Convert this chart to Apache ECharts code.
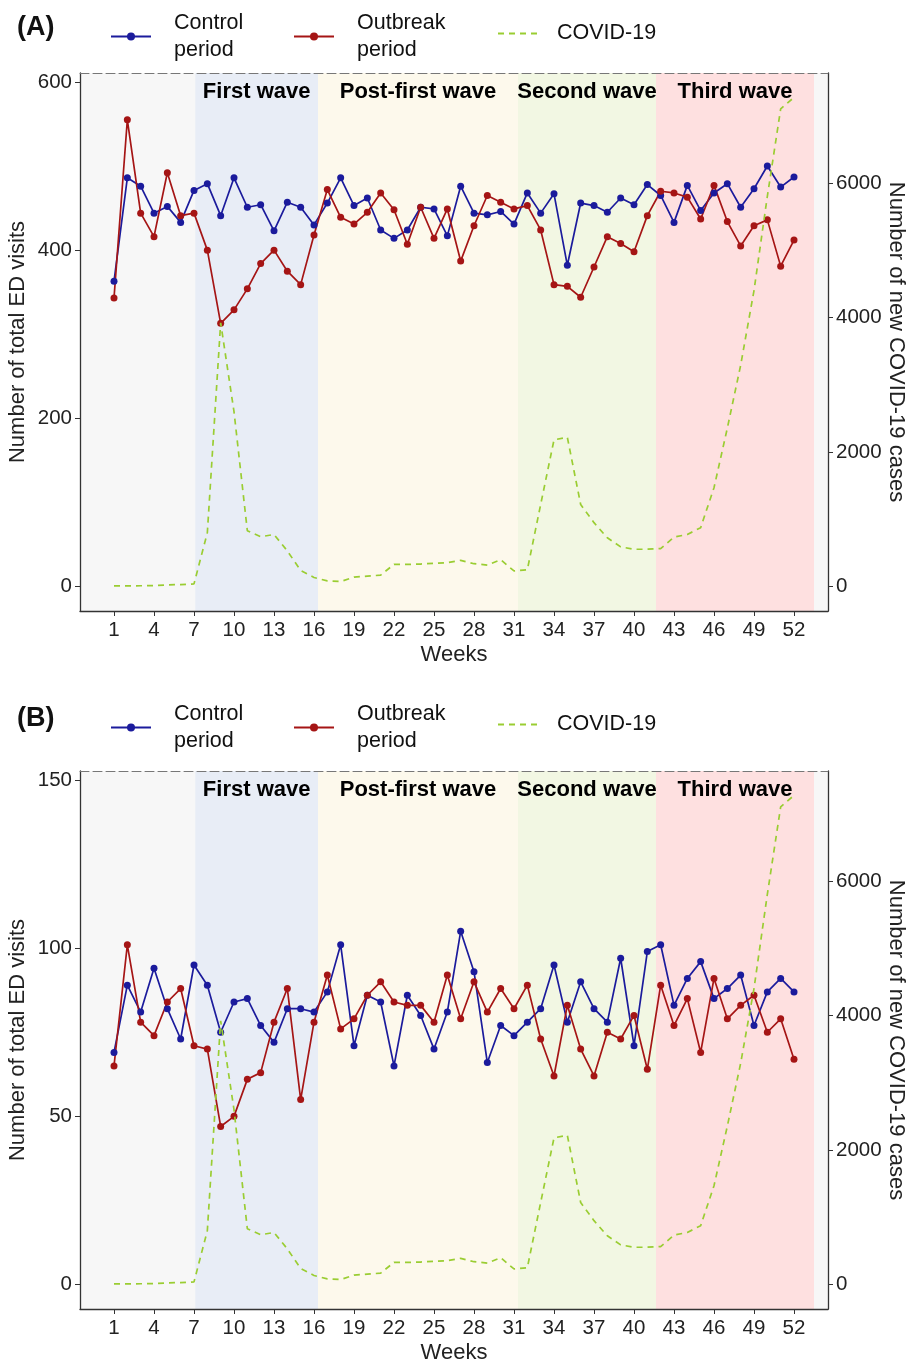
<!DOCTYPE html>
<html>
<head>
<meta charset="utf-8">
<title>ED visits and COVID-19</title>
<script src="https://cdn.jsdelivr.net/npm/echarts@6/dist/echarts.min.js"></script>
<style>
  html, body { margin: 0; padding: 0; background: #fff; }
  #main { width: 907px; height: 1363px; }
</style>
</head>
<body>
<div id="main"></div>
<script>
// weeks of the year
var weeks = [1, 2, 3, 4, 5, 6, 7, 8, 9, 10, 11, 12, 13, 14, 15, 16, 17, 18, 19, 20, 21, 22, 23, 24, 25, 26,
             27, 28, 29, 30, 31, 32, 33, 34, 35, 36, 37, 38, 39, 40, 41, 42, 43, 44, 45, 46, 47, 48, 49, 50, 51, 52];
var weekTicks = [1, 4, 7, 10, 13, 16, 19, 22, 25, 28, 31, 34, 37, 40, 43, 46, 49, 52];

// (A) total ED visits
var controlA = [363, 486, 476, 444, 452, 433, 471, 479, 441, 486, 451, 454, 423, 457, 451, 430, 456, 486, 453, 462, 424, 414, 424, 451, 449, 417,
                476, 444, 442, 446, 431, 468, 444, 467, 382, 456, 453, 445, 462, 454, 478, 465, 433, 477, 447, 468, 479, 451, 473, 500, 475, 487];
var outbreakA = [343, 555, 444, 416, 492, 441, 444, 400, 313, 329, 354, 384, 400, 375, 359, 418, 472, 439, 431, 445, 468, 448, 407, 451, 414, 449,
                 387, 429, 465, 457, 449, 453, 424, 359, 357, 344, 380, 416, 408, 398, 441, 470, 468, 463, 437, 477, 434, 405, 429, 436, 381, 412];

// (B) second panel
var controlB = [69, 89, 81, 94, 82, 73, 95, 89, 75, 84, 85, 77, 72, 82, 82, 81, 87, 101, 71, 86, 84, 65, 86, 80, 70, 81,
                105, 93, 66, 77, 74, 78, 82, 95, 78, 90, 82, 78, 97, 71, 99, 101, 83, 91, 96, 85, 88, 92, 77, 87, 91, 87];
var outbreakB = [65, 101, 78, 74, 84, 88, 71, 70, 47, 50, 61, 63, 78, 88, 55, 78, 92, 76, 79, 86, 90, 84, 83, 83, 78, 92,
                 79, 90, 81, 88, 82, 89, 73, 62, 83, 70, 62, 75, 73, 80, 64, 89, 77, 85, 69, 91, 79, 83, 86, 75, 79, 67];

// new COVID-19 cases per week
var covid = [10, 10, 12, 15, 25, 30, 40, 800, 3920, 2600, 830, 740, 775, 530, 240, 135, 85, 75, 140, 155, 170, 330, 330, 335, 345, 355,
             390, 340, 320, 400, 232, 250, 1220, 2180, 2220, 1220, 950, 725, 590, 555, 555, 565, 735, 775, 875, 1470, 2355, 3290, 4400, 5800, 7100, 7270];

// wave periods (in weeks)
var waveNames = ['First wave', 'Post-first wave', 'Second wave', 'Third wave'];
var waveStart = [7.1, 16.3, 31.3, 41.65];
var waveEnd = [16.3, 31.3, 41.65, 53.5];
var waveColors = ['#E8EDF6', '#FDF9EC', '#F2F7E3', '#FEE0E0'];

var leftTicksA = [0, 200, 400, 600];
var leftTicksB = [0, 50, 100, 150];
var rightTicks = [0, 2000, 4000, 6000];

var FONT = '"Liberation Sans", Arial, sans-serif';
var BLUE = '#1B1B9C';
var RED = '#A51515';
var GREEN = '#9ACD32';

function pair(xs, ys) {
    return xs.map(function (x, i) { return [x, ys[i]]; });
}
function plain(v) { return String(v); }

var panels = [
    { label: '(A)', top: 73, shift: 0, control: controlA, outbreak: outbreakA, min: -29, max: 610.6, ticks: leftTicksA },
    { label: '(B)', top: 771, shift: 691, control: controlB, outbreak: outbreakB, min: -7.26, max: 152.66, ticks: leftTicksB }
];

var option = {
    animation: false,
    backgroundColor: '#fff',
    textStyle: { fontFamily: FONT },
    title: [], legend: [], grid: [], xAxis: [], yAxis: [], series: []
};

panels.forEach(function (p, i) {
    option.title.push({
        text: p.label, left: 17, top: 14 + p.shift, padding: 0,
        textStyle: { fontSize: 27, fontWeight: 'bold', color: '#111', fontFamily: FONT }
    });

    var legendText = { fontSize: 21.5, lineHeight: 27, color: '#111', padding: [0, 0, 0, 18], fontFamily: FONT };
    var legendBase = { itemWidth: 40, itemHeight: 10, padding: 0, textStyle: legendText };
    option.legend.push(Object.assign({}, legendBase, { data: ['Control\nperiod'], left: 110, top: 9.5 + p.shift }));
    option.legend.push(Object.assign({}, legendBase, { data: ['Outbreak\nperiod'], left: 293, top: 9.5 + p.shift }));
    option.legend.push(Object.assign({}, legendBase, {
        data: ['COVID-19'], left: 497, top: 20 + p.shift,
        itemStyle: { opacity: 0 },
        textStyle: Object.assign({}, legendText, { padding: [0, 0, 0, 14] })
    }));

    option.grid.push({
        left: 80, right: 79, top: p.top, height: 538, outerBoundsMode: 'none',
        show: true, backgroundColor: '#F7F7F7', borderWidth: 0
    });

    // bottom x axis
    option.xAxis.push({
        gridIndex: i, type: 'value', min: -1.55, max: 54.55, position: 'bottom', z: 10,
        axisLine: { onZero: false, lineStyle: { color: '#333', width: 1.3 } },
        axisTick: { customValues: weekTicks, length: 5, lineStyle: { color: '#333' } },
        axisLabel: { customValues: weekTicks, fontSize: 20.5, color: '#222', margin: 9 },
        splitLine: { show: false },
        name: 'Weeks', nameLocation: 'middle', nameGap: 33, nameMoveOverlap: false,
        nameTextStyle: { fontSize: 22, color: '#222' }
    });
    // top border (dashed)
    option.xAxis.push({
        gridIndex: i, type: 'value', min: -1.55, max: 54.55, position: 'top', z: 10,
        axisLine: { onZero: false, lineStyle: { color: '#777', width: 1, type: [9, 4] } },
        axisTick: { show: false }, axisLabel: { show: false }, splitLine: { show: false }
    });

    option.yAxis.push({
        gridIndex: i, type: 'value', position: 'left', min: p.min, max: p.max, z: 10,
        axisLine: { show: true, onZero: false, lineStyle: { color: '#333', width: 1.3 } },
        axisTick: { show: true, customValues: p.ticks, length: 5, lineStyle: { color: '#333' } },
        axisLabel: { customValues: p.ticks, fontSize: 20.5, color: '#222', margin: 8, formatter: plain },
        splitLine: { show: false },
        name: 'Number of total ED visits', nameLocation: 'middle', nameGap: 51, nameMoveOverlap: false,
        nameTextStyle: { fontSize: 22, color: '#222' }
    });
    option.yAxis.push({
        gridIndex: i, type: 'value', position: 'right', min: -363, max: 7633, z: 10,
        axisLine: { show: true, onZero: false, lineStyle: { color: '#333', width: 1.3 } },
        axisTick: { show: true, customValues: rightTicks, length: 5, lineStyle: { color: '#333' } },
        axisLabel: { customValues: rightTicks, fontSize: 20.5, color: '#222', margin: 8, formatter: plain },
        splitLine: { show: false },
        name: 'Number of new COVID-19 cases', nameLocation: 'middle', nameGap: 57, nameRotate: -90,
        nameMoveOverlap: false,
        nameTextStyle: { fontSize: 22, color: '#222' }
    });

    var xi = i * 2, yl = i * 2, yr = i * 2 + 1;

    // wave bands
    option.series.push({
        type: 'line', xAxisIndex: xi, yAxisIndex: yl, data: [], silent: true, z: 1,
        markArea: {
            silent: true,
            label: { show: true, position: 'insideTop', distance: 8, fontSize: 22, fontWeight: 'bold', color: '#000' },
            data: waveNames.map(function (n, k) {
                return [{ name: n, xAxis: waveStart[k], itemStyle: { color: waveColors[k] } }, { xAxis: waveEnd[k] }];
            })
        }
    });

    option.series.push({
        name: 'Control\nperiod', type: 'line', xAxisIndex: xi, yAxisIndex: yl, z: 3,
        data: pair(weeks, p.control), symbol: 'circle', symbolSize: 7,
        itemStyle: { color: BLUE }, lineStyle: { color: BLUE, width: 1.7 }
    });
    option.series.push({
        name: 'Outbreak\nperiod', type: 'line', xAxisIndex: xi, yAxisIndex: yl, z: 3,
        data: pair(weeks, p.outbreak), symbol: 'circle', symbolSize: 7,
        itemStyle: { color: RED }, lineStyle: { color: RED, width: 1.7 }
    });
    option.series.push({
        name: 'COVID-19', type: 'line', xAxisIndex: xi, yAxisIndex: yr, z: 4,
        data: pair(weeks, covid), symbol: 'none',
        itemStyle: { color: GREEN }, lineStyle: { color: GREEN, width: 1.7, type: [6, 5] }
    });
});

var myChart = echarts.init(document.getElementById('main'));
myChart.setOption(option);
</script>
</body>
</html>
